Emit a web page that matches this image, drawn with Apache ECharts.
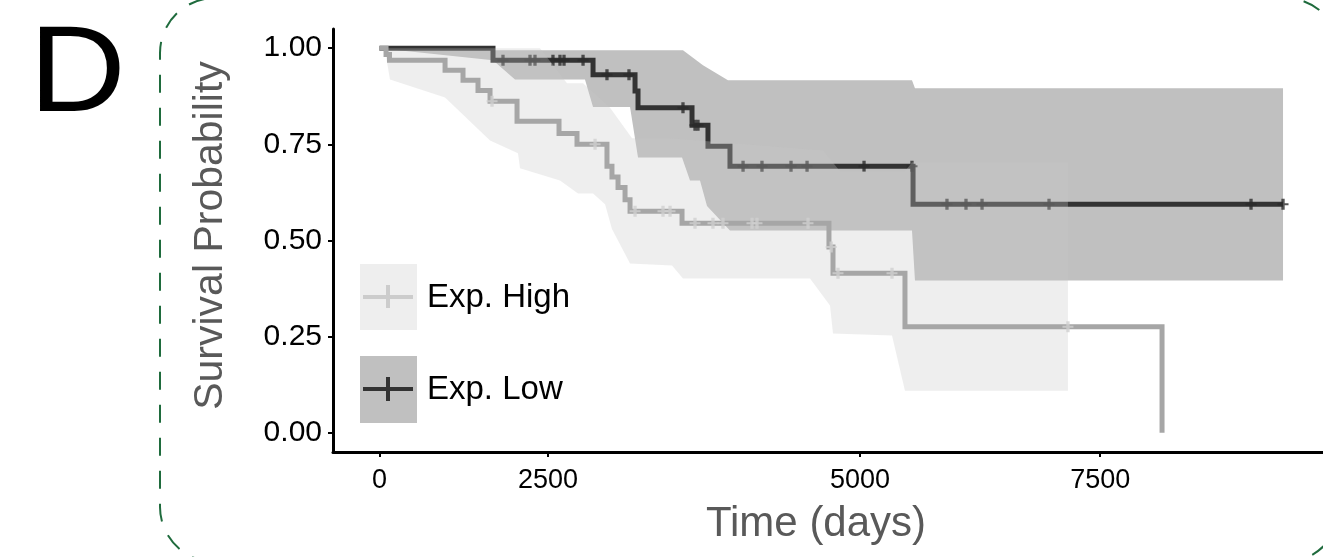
<!DOCTYPE html>
<html><head><meta charset="utf-8">
<script src="https://cdn.jsdelivr.net/npm/echarts@6/dist/echarts.min.js"></script>
<style>html,body{margin:0;padding:0;background:#fff;}#c{width:1323px;height:557px;}</style>
</head><body><div id="c"></div>
<script>
// ---- data (time in days, survival probability) ----
const lowTime  = [0, 1181, 2222, 2659, 2690, 3252, 3418, 3647, 5552, 9402];
const lowSurv  = [1, 0.969, 0.931, 0.889, 0.845, 0.800, 0.745, 0.693, 0.594, 0.594];
const lowCensor = [1285, 1566, 1618, 1805, 1878, 1920, 2118, 2367, 2596, 3158, 3283, 3314, 3783, 3980, 4282, 4449, 5042, 5541, 5905, 6103, 6270, 6967, 9069, 9402];

const highTime = [0, 68, 104, 682, 869, 1025, 1150, 1431, 1868, 2055, 2367, 2419, 2482, 2555, 2607, 3148, 4677, 4719, 5468, 8143];
const highSurv = [1, 0.984, 0.969, 0.943, 0.917, 0.890, 0.862, 0.810, 0.778, 0.750, 0.693, 0.665, 0.638, 0.606, 0.576, 0.545, 0.483, 0.415, 0.276, 0];
const highCensor = [1171, 2243, 2659, 2950, 3023, 3283, 3470, 3574, 3876, 3928, 4459, 4700, 4771, 5333, 7164];

// confidence band edges [time, prob]
const lowUpper = [[0,1],[1181,0.995],[3158,0.995],[3366,0.956],[3626,0.917],[5541,0.917],[5572,0.896],[9402,0.896]];
const lowLower = [[0,1],[1181,0.969],[1410,0.919],[2138,0.919],[2222,0.847],[2607,0.847],[2690,0.716],[3148,0.716],[3231,0.656],[3335,0.656],[3408,0.59],[3647,0.526],[5541,0.526],[5572,0.396],[9402,0.396]];
const highUpper = [[0,1],[1670,1],[1951,0.909],[2118,0.909],[2399,0.845],[2628,0.766],[3023,0.766],[4615,0.734],[4792,0.68],[5468,0.68],[5541,0.703],[7164,0.703]];
const highLower = [[0,1],[57,0.995],[109,0.919],[682,0.872],[1150,0.76],[1441,0.727],[1462,0.688],[1878,0.656],[2066,0.622],[2222,0.622],[2347,0.594],[2419,0.53],[2607,0.44],[3044,0.435],[3158,0.401],[4480,0.401],[4688,0.331],[4719,0.258],[5333,0.253],[5468,0.109],[7164,0.109]];

const xTickValues = [0, 1753, 5000, 7500];
const xTickLabels = ['0', '2500', '5000', '7500'];
const yTickValues = [0, 0.25, 0.5, 0.75, 1];
const groupNames = ['Exp. High', 'Exp. Low'];

// ---- helpers ----
function pairs(t, s) { return t.map((v, i) => [v, s[i]]); }
function survAt(times, surv, t) {
  let v = surv[0];
  for (let i = 0; i < times.length; i++) { if (times[i] <= t) v = surv[i]; }
  return v;
}
function censorPts(c, times, surv) { return c.map(t => [t, survAt(times, surv, t)]); }
function bandSeries(upper, lower, fill, z) {
  const pts = upper.concat(lower.slice().reverse());
  return {
    type: 'custom', z: z, silent: true, clip: true,
    data: pts,
    encode: { x: 0, y: 1 },
    renderItem: function (params, api) {
      if (params.dataIndex !== 0) return null;
      const poly = pts.map(p => api.coord(p));
      return { type: 'polygon', shape: { points: poly }, style: { fill: fill, stroke: null } };
    }
  };
}
const plusSymbol = 'path://M3.5,0H6.5V4.1H10V5.9H6.5V10H3.5V5.9H0V4.1H3.5Z';
const FONT = '"Liberation Sans", Arial, Helvetica, sans-serif';

const chart = echarts.init(document.getElementById('c'), null, { renderer: 'canvas' });
chart.setOption({
  animation: false,
  backgroundColor: '#ffffff',
  textStyle: { fontFamily: FONT },
  grid: { left: 333, right: 0, top: 29, bottom: 105, containLabel: false },
  xAxis: {
    type: 'value', min: -484, max: 9818,
    name: 'Time (days)', nameLocation: 'middle', nameGap: 51,
    nameTextStyle: { fontSize: 42, color: '#595959', fontFamily: FONT, padding: [0, 24, 0, 0] },
    axisLine: { show: true, onZero: false, lineStyle: { color: '#000', width: 3 } },
    axisTick: { show: true, length: 5, lineStyle: { color: '#000', width: 2 }, customValues: xTickValues },
    axisLabel: { fontSize: 27, color: '#000', margin: 15, customValues: xTickValues,
      formatter: v => { const i = xTickValues.indexOf(v); return i >= 0 ? xTickLabels[i] : ''; } },
    splitLine: { show: false }
  },
  yAxis: {
    type: 'value', min: -0.05, max: 1.05,
    name: 'Survival Probability', nameLocation: 'middle', nameGap: 102,
    nameTextStyle: { fontSize: 41, color: '#595959', fontFamily: FONT, padding: [0, 0, 0, 10] },
    axisLine: { show: true, onZero: false, lineStyle: { color: '#000', width: 3 } },
    axisTick: { show: true, length: 5, lineStyle: { color: '#000', width: 2 }, customValues: yTickValues },
    axisLabel: { fontSize: 30, color: '#000', margin: 11, customValues: yTickValues,
      formatter: v => v.toFixed(2) },
    splitLine: { show: false }
  },
  series: [
    bandSeries(lowUpper, lowLower, '#c0c0c0', 1),
    { name: groupNames[1], type: 'line', step: 'end', z: 2, symbol: 'none',
      data: pairs(lowTime, lowSurv),
      lineStyle: { color: '#333333', width: 5, cap: 'butt', join: 'miter' } },
    { type: 'scatter', z: 3, symbol: plusSymbol, symbolSize: [11, 11],
      data: censorPts(lowCensor, lowTime, lowSurv),
      itemStyle: { color: '#2b2b2b' } },
    bandSeries(highUpper, highLower, 'rgba(200,200,200,0.3)', 4),
    { name: groupNames[0], type: 'line', step: 'end', z: 5, symbol: 'none',
      data: pairs(highTime, highSurv),
      lineStyle: { color: '#a6a6a6', width: 5, cap: 'butt', join: 'miter' } },
    { type: 'scatter', z: 6, symbol: plusSymbol, symbolSize: [11, 11],
      data: censorPts(highCensor, highTime, highSurv),
      itemStyle: { color: '#d0d0d0' } }
  ],
  graphic: [
    { type: 'rect', z: 0, silent: true,
      shape: { x: 160, y: -2, width: 1180, height: 564, r: 55 },
      style: { fill: null, stroke: '#1f6b3d', lineWidth: 2, lineDash: [18, 15] } },
    { type: 'text', x: 29, y: 77, scaleX: 1.1, silent: true,
      style: { text: 'D', fontSize: 122, fontFamily: FONT, fill: '#000', verticalAlign: 'middle', align: 'left' } },
    // legend: Exp. High
    { type: 'rect', shape: { x: 360, y: 264, width: 57, height: 66 }, style: { fill: '#eeeeee' } },
    { type: 'rect', shape: { x: 363, y: 295, width: 50, height: 4 }, style: { fill: '#cccccc' } },
    { type: 'rect', shape: { x: 386, y: 285, width: 4, height: 23 }, style: { fill: '#cccccc' } },
    { type: 'text', x: 427, y: 298, style: { text: groupNames[0], fontSize: 33, fontFamily: FONT, fill: '#000', verticalAlign: 'middle' } },
    // legend: Exp. Low
    { type: 'rect', shape: { x: 360, y: 356, width: 57, height: 67 }, style: { fill: '#c0c0c0' } },
    { type: 'rect', shape: { x: 363, y: 387, width: 50, height: 4 }, style: { fill: '#333333' } },
    { type: 'rect', shape: { x: 386, y: 377, width: 4, height: 24 }, style: { fill: '#333333' } },
    { type: 'text', x: 427, y: 390, style: { text: groupNames[1], fontSize: 33, fontFamily: FONT, fill: '#000', verticalAlign: 'middle' } }
  ]
});
</script>
</body></html>
